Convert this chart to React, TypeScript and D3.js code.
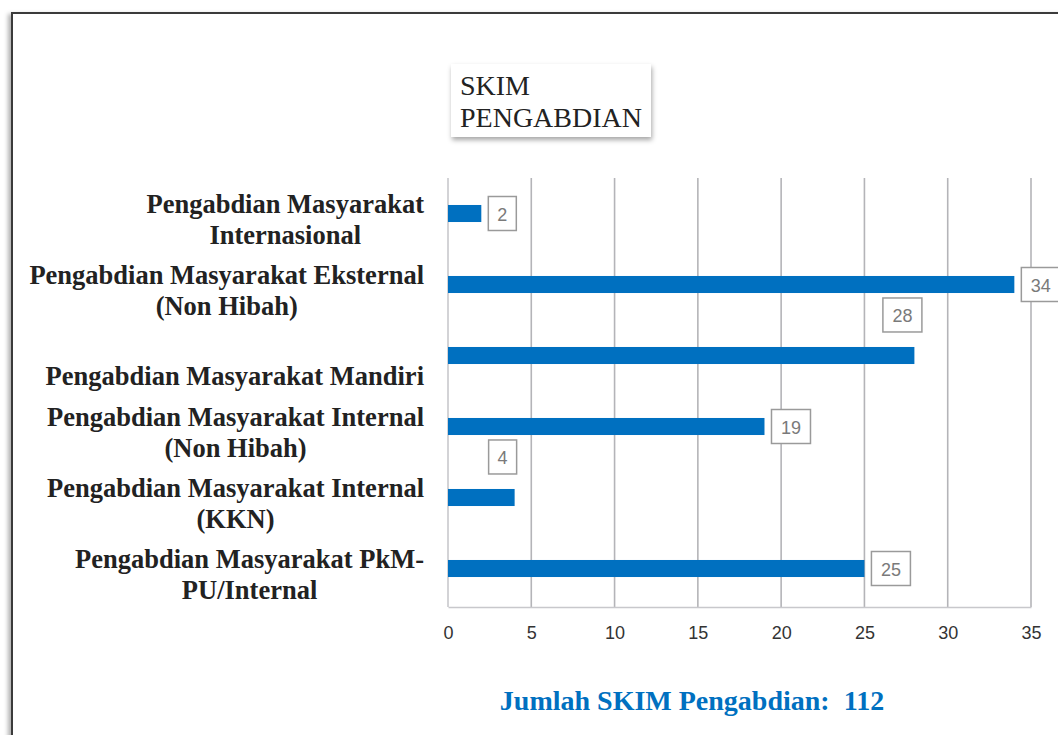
import React, { useEffect, useRef } from 'react';
import * as d3 from 'd3';

const categories = [
    ['Pengabdian Masyarakat', 'Internasional'],
    ['Pengabdian Masyarakat Eksternal', '(Non Hibah)'],
    ['Pengabdian Masyarakat Mandiri'],
    ['Pengabdian Masyarakat Internal', '(Non Hibah)'],
    ['Pengabdian Masyarakat Internal', '(KKN)'],
    ['Pengabdian Masyarakat PkM-', 'PU/Internal'],
];
const values = [2, 34, 28, 19, 4, 25];
const labelPlacement = ['right', 'right', 'above', 'right', 'above', 'right'];
const xTicks = [0, 5, 10, 15, 20, 25, 30, 35];
const titleLines = ['SKIM', 'PENGABDIAN'];
const footerText = 'Jumlah SKIM Pengabdian:\u00a0\u00a0112';

const W = 1058;
const H = 735;

const App = () => {
    const svgRef = useRef(null);

    useEffect(() => {
        const svg = d3.select(svgRef.current);
        svg.selectAll('*').remove();

        const defs = svg.append('defs');
        const sh = defs.append('filter').attr('id', 'shadow').attr('x', '-20%').attr('y', '-20%').attr('width', '140%').attr('height', '140%');
        sh.append('feDropShadow').attr('dx', 1).attr('dy', 3).attr('stdDeviation', 2.5).attr('flood-color', '#000').attr('flood-opacity', 0.35);
        const fs = defs.append('filter').attr('id', 'frameShadow').attr('x', '-5%').attr('y', '-5%').attr('width', '110%').attr('height', '110%');
        fs.append('feDropShadow').attr('dx', -3).attr('dy', 2).attr('stdDeviation', 2).attr('flood-color', '#000').attr('flood-opacity', 0.3);

        svg.append('rect').attr('width', W).attr('height', H).attr('fill', '#fff');

        // outer frame
        svg.append('rect')
            .attr('x', 12).attr('y', 13)
            .attr('width', W + 20).attr('height', H + 20)
            .attr('fill', '#fff')
            .attr('stroke', '#3a3a3a')
            .attr('stroke-width', 2)
            .attr('filter', 'url(#frameShadow)');

        const left = 448, right = 1031, top = 178, bottom = 604;

        const x = d3.scaleLinear().domain([0, 35]).range([left, right]);
        const y = d3.scaleBand<number>()
            .domain(d3.range(categories.length))
            .range([top, bottom])
            .paddingInner(0.76)
            .paddingOuter(0.38);

        // gridlines
        svg.append('g')
            .selectAll('line')
            .data(xTicks)
            .enter()
            .append('line')
            .attr('x1', d => x(d)).attr('x2', d => x(d))
            .attr('y1', top).attr('y2', bottom + 3)
            .attr('stroke', d => d === 0 ? '#c8c8cc' : '#b4b4b8')
            .attr('stroke-width', 1.6);

        // x axis
        const axis = svg.append('g').attr('transform', `translate(0,${bottom + 3})`)
            .call(d3.axisBottom(x).tickValues(xTicks).tickSize(0).tickPadding(19));
        axis.select('.domain').attr('stroke', '#c8c8cc').attr('stroke-width', 1.6);
        axis.selectAll('text')
            .attr('fill', '#333')
            .style('font-family', '"Liberation Sans", Arial, sans-serif')
            .style('font-size', '18px');

        // bars
        svg.append('g')
            .selectAll('rect')
            .data(values)
            .enter()
            .append('rect')
            .attr('x', x(0))
            .attr('y', (d, i) => y(i) as number)
            .attr('width', d => x(d) - x(0))
            .attr('height', y.bandwidth())
            .attr('fill', '#0070c0');

        // value labels
        const boxW = (d: number) => (String(d).length > 1 ? 39 : 28);
        const boxH = 34;
        const lab = svg.append('g').selectAll('g').data(values).enter().append('g')
            .attr('transform', (d, i) => {
                const cy = (y(i) as number) + y.bandwidth() / 2;
                if (labelPlacement[i] === 'above') {
                    return `translate(${x(d) - 12 - boxW(d) / 2},${(y(i) as number) - 15 - boxH})`;
                }
                return `translate(${x(d) + 7},${cy - boxH / 2})`;
            });
        lab.append('rect')
            .attr('width', d => boxW(d))
            .attr('height', boxH)
            .attr('fill', '#fff')
            .attr('stroke', '#9a9a9a')
            .attr('stroke-width', 1.5);
        lab.append('text')
            .attr('x', d => boxW(d) / 2)
            .attr('y', 24)
            .attr('text-anchor', 'middle')
            .attr('fill', '#7a7a7a')
            .style('font-family', '"Liberation Sans", Arial, sans-serif')
            .style('font-size', '18px')
            .text(d => d);

        // category labels
        const cat = svg.append('g').selectAll('text').data(categories).enter().append('text')
            .attr('text-anchor', 'middle')
            .attr('fill', '#222')
            .style('font-family', '"Liberation Serif", "Times New Roman", serif')
            .style('font-weight', 'bold')
            .style('font-size', '26.5px');
        cat.each(function (lines, i) {
            const t = d3.select(this);
            const cy = (y(i) as number) + y.bandwidth() / 2;
            const y0 = lines.length === 1 ? cy + 29 : cy - 1;
            // measure widest line to right-align the centred block
            const tmp = t.append('tspan').text(lines.reduce((a, b) => (a.length > b.length ? a : b)));
            const wMax = (tmp.node() as SVGTSpanElement).getComputedTextLength();
            tmp.remove();
            const cx = 424 - wMax / 2;
            lines.forEach((ln, k) => {
                t.append('tspan').attr('x', cx).attr('y', y0 + k * 31).text(ln);
            });
        });

        // title box
        const tb = svg.append('g').attr('transform', 'translate(451,64)');
        tb.append('rect').attr('width', 200).attr('height', 73).attr('fill', '#fff').attr('filter', 'url(#shadow)');
        tb.selectAll('text').data(titleLines).enter().append('text')
            .attr('x', 9)
            .attr('y', (d, i) => 31 + i * 32)
            .attr('fill', '#222')
            .style('font-family', '"Liberation Serif", "Times New Roman", serif')
            .style('font-size', '28px')
            .text(d => d);

        // footer
        svg.append('text')
            .attr('x', 692)
            .attr('y', 710)
            .attr('text-anchor', 'middle')
            .attr('fill', '#0070c0')
            .style('font-family', '"Liberation Serif", "Times New Roman", serif')
            .style('font-weight', 'bold')
            .style('font-size', '28px')
            .text(footerText);
    }, []);

    return (
        <div style={{ position: 'absolute', left: 0, top: 0, width: W, height: H, overflow: 'hidden' }}>
            <svg ref={svgRef} width={W} height={H} style={{ display: 'block' }}></svg>
        </div>
    );
};

export default App;
